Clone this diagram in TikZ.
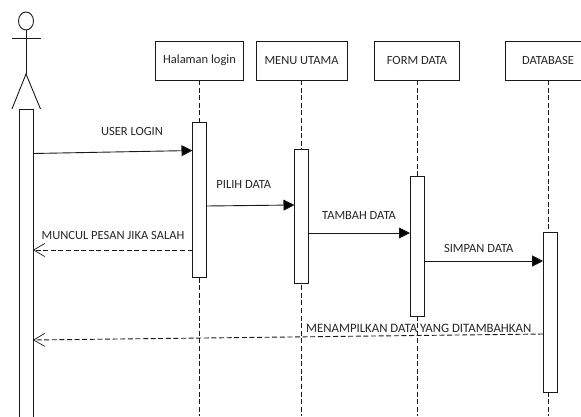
\documentclass[tikz,border=0pt]{standalone}
\usepackage{fontspec}
\setmainfont{Carlito}
\usetikzlibrary{arrows.meta,shapes.geometric}
\begin{document}
\begin{tikzpicture}[x=1pt,y=-1pt,
  every node/.style={inner sep=0pt,outer sep=0pt},
  thing/.style={draw=black!90,line width=0.9pt,rectangle,fill=white,font=\fontsize{12.5pt}{14pt}\selectfont,text=black!85},
  bar/.style={draw=black!90,line width=0.9pt,rectangle,fill=white,minimum width=14pt},
  life/.style={draw=black!90,line width=0.9pt,dash pattern=on 5pt off 2.6pt},
  limb/.style={draw=black!90,line width=0.9pt},
  msg/.style={draw=black!90,line width=0.9pt,-{Triangle[length=11pt,width=11pt,fill=black]}},
  reply/.style={draw=black!90,line width=0.9pt,dash pattern=on 5pt off 2.6pt,-{Straight Barb[length=11pt,width=13pt,line width=0.7pt]}},
  lab/.style={font=\fontsize{12.5pt}{14pt}\selectfont,text=black!85}]
\useasboundingbox (0,0) rectangle (581,416);
\clip (0,0) rectangle (581,416);
% lifelines
\coordinate (e1) at (199.5,416);
\coordinate (e2) at (301.5,416);
\coordinate (e3) at (417,416);
\coordinate (e4) at (548,416);
\node[thing,minimum width=88pt,minimum height=39pt] (b1) at (199.5,60.5) {Halaman login};
\node[thing,minimum width=91pt,minimum height=39pt] (b2) at (301.5,60.5) {MENU UTAMA};
\node[thing,minimum width=84.6pt,minimum height=39pt] (b3) at (417,60.5) {FORM DATA};
\node[thing,minimum width=84.6pt,minimum height=39pt] (b4) at (548,60.5) {DATABASE};
\draw[life] (b1.south) -- (e1);
\draw[life] (b2.south) -- (e2);
\draw[life] (b3.south) -- (e3);
\draw[life] (b4.south) -- (e4);
% actor
\node[limb,draw,ellipse,minimum width=15pt,minimum height=18pt] (head) at (26,21) {};
\coordinate (hip) at (26,74);
\coordinate (armL) at (12,38);
\coordinate (armR) at (40.5,38);
\coordinate (legL) at (12,109);
\coordinate (legR) at (40.5,109);
\draw[limb] (head.south) -- (hip);
\draw[limb] (armL) -- (armR);
\draw[limb] (legL) -- (hip) -- (legR);
% activation bars
\node[bar,minimum height=320pt] (a0) at (26,269) {};
\node[bar,minimum height=155pt] (a1) at (199.5,199.5) {};
\node[bar,minimum height=134pt] (a2) at (301.5,216) {};
\node[bar,minimum height=139.5pt] (a3) at (417,246.2) {};
\node[bar,minimum height=159.3pt] (a4) at (550.2,312.4) {};
% endpoints on the bars
\coordinate (m1s) at (33,153.5);
\coordinate (m1e) at (192.5,150.5);
\coordinate (m2s) at (206.5,206);
\coordinate (m2e) at (294.5,205);
\coordinate (m3s) at (308.5,233);
\coordinate (m3e) at (410,233);
\coordinate (m4s) at (424,261);
\coordinate (m4e) at (543.2,261);
\coordinate (r1s) at (192.5,250);
\coordinate (r1e) at (33,250);
\coordinate (r2s) at (543.2,334);
\coordinate (r2e) at (33,340);
\draw[msg] (m1s) -- (m1e);
\draw[msg] (m2s) -- (m2e);
\draw[msg] (m3s) -- (m3e);
\draw[msg] (m4s) -- (m4e);
\draw[reply] (r1s) -- (r1e);
\draw[reply] (r2s) -- (r2e);
% labels
\node[lab] (t1) at (132,131) {USER LOGIN};
\node[lab] (t2) at (243.8,184.5) {PILIH DATA};
\node[lab] (t3) at (113,235) {MUNCUL PESAN JIKA SALAH};
\node[lab] (t4) at (359,215) {TAMBAH DATA};
\node[lab] (t5) at (478.7,248) {SIMPAN DATA};
\node[lab,font=\fontsize{12.8pt}{14pt}\selectfont] (t6) at (418.7,328) {MENAMPILKAN DATA YANG DITAMBAHKAN};
\end{tikzpicture}
\end{document}
